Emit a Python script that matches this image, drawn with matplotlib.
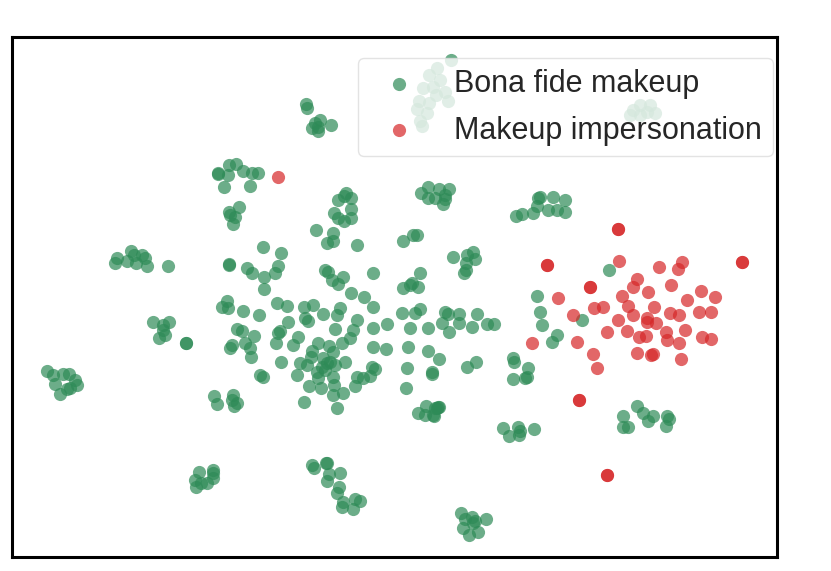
import matplotlib
matplotlib.use('Agg')
import matplotlib.pyplot as plt
import numpy as np

plt.rcParams['font.family'] = ['Liberation Sans', 'DejaVu Sans']

# t-SNE embedding (x right, y down)
bona_x = [
    306, 307, 315, 320, 318, 331, 312, 318,
    218, 218, 229, 236, 228, 243, 252, 258, 224, 250,
    239, 229, 235, 233, 230,
    344, 338, 351, 334, 351, 338, 344, 351, 346,
    428, 421, 428, 439, 449, 445, 435, 443, 445,
    516, 522, 533, 538, 537, 540, 553, 565, 557, 565, 548,
    451, 437, 429, 440, 433, 423, 445, 436, 448, 419, 429, 417, 427, 420, 422,
    633, 640, 650, 655, 640, 647, 630,
    117, 115, 131, 127, 134, 136, 142, 145, 147, 168,
    153, 163, 169, 163, 165, 159, 186, 186,
    47, 53, 63, 69, 55, 60, 67, 75, 77, 70,
    316, 333, 327, 333, 357, 263, 281, 229, 229, 247, 252, 278, 275, 264, 264,
    325, 328, 332, 343, 338, 351, 364,
    222, 228, 227, 243, 259, 277, 287, 304, 313, 305, 308, 323, 337, 340, 357,
    403, 413, 417, 453, 467, 473, 475, 466, 466, 464, 373, 420, 412, 403, 418, 410,
    537,
    373, 402, 415, 420, 445, 448, 459, 477, 442, 459, 449, 472, 487, 494,
    373, 387, 410, 428, 373, 386, 408, 428, 439, 467, 476, 372, 375, 370,
    407, 432, 432, 406, 426, 418, 425, 434, 437, 439,
    513, 514, 528, 513, 525, 527,
    503, 509, 518, 519, 520, 534,
    540, 542, 582, 557, 552, 609,
    237, 242, 254, 280, 278, 288, 335, 353, 350, 232, 230, 245, 250, 251,
    276, 293, 298, 318, 329, 333, 342, 312, 311, 300, 307, 323, 327, 330,
    335, 345, 322, 317, 318, 333, 325, 281, 297, 309, 321, 334, 333, 343,
    355, 357, 363, 260, 263,
    214, 217, 233, 232, 237, 234, 304, 337,
    199, 213, 195, 201, 196, 207, 213, 213,
    312, 314, 326, 327, 329, 340, 327, 339, 337, 343, 342, 355, 360, 353,
    438, 433, 435,
    637, 643, 653, 648, 623, 623, 628, 667, 669, 666,
    461, 465, 472, 475, 486, 463, 469, 478, 473,
]
bona_y = [
    104, 108, 123, 120, 127, 125, 128, 131,
    173, 174, 165, 164, 175, 171, 173, 173, 187, 186,
    207, 212, 217, 224, 215,
    196, 200, 198, 213, 209, 218, 221, 218, 193,
    187, 193, 198, 189, 189, 195, 198, 204, 199,
    216, 214, 213, 198, 206, 197, 197, 200, 210, 212, 210,
    60, 68, 75, 80, 87, 88, 92, 95, 101, 101, 103, 109, 113, 121, 126,
    110, 105, 105, 113, 115, 112, 115,
    258, 263, 251, 261, 255, 263, 255, 258, 266, 266,
    322, 325, 322, 330, 335, 338, 343, 343,
    371, 375, 374, 374, 384, 394, 389, 380, 385, 388,
    230, 233, 243, 241, 245, 247, 253, 264, 265, 268, 273, 266, 273, 277, 289,
    270, 272, 280, 277, 284, 293, 297,
    307, 308, 301, 311, 315, 303, 306, 307, 305, 318, 321, 314, 315, 308, 320,
    241, 235, 235, 257, 255, 252, 259, 263, 270, 273, 273, 273, 283, 288, 287, 285,
    296,
    307, 313, 313, 309, 312, 314, 314, 314, 323, 323, 332, 327, 324, 324,
    328, 324, 328, 328, 347, 349, 347, 351, 359, 367, 362, 367, 369, 376,
    368, 372, 374, 388, 406, 413, 415, 416, 408, 407,
    358, 362, 368, 379, 378, 377,
    428, 436, 427, 435, 431, 429,
    312, 325, 320, 335, 342, 270,
    329, 331, 336, 331, 333, 322, 329, 330, 338, 345, 348, 343, 348, 357,
    343, 345, 337, 343, 346, 352, 343, 351, 357, 363, 365, 358, 363, 362,
    365, 362, 367, 372, 378, 377, 370, 362, 375, 386, 388, 385, 395, 393,
    386, 377, 378, 375, 377,
    396, 404, 395, 400, 403, 406, 402, 408,
    472, 470, 480, 483, 487, 483, 478, 473,
    465, 468, 463, 463, 474, 473, 481, 487, 493, 502, 507, 499, 501, 509,
    407, 415, 408,
    406, 413, 416, 421, 416, 427, 427, 416, 419, 426,
    513, 519, 517, 521, 519, 528, 535, 532, 523,
]

imp_x = [
    278, 547, 547, 618, 618, 742, 742, 590, 590, 619, 682, 678, 659, 637, 633,
    671, 648, 622, 558, 701, 687, 715, 628, 654, 594, 603, 633, 670, 679, 699,
    711, 573, 647, 647, 656, 618, 607, 627, 639, 646, 666, 667, 685, 702, 711,
    679, 577, 532, 593, 597, 637, 651, 653, 681, 579, 579, 607, 607,
]
imp_y = [
    177, 265, 265, 229, 229, 262, 262, 287, 287, 261, 262, 269, 267, 279, 287,
    285, 292, 296, 298, 291, 300, 297, 306, 307, 308, 307, 315, 313, 315, 312,
    312, 315, 318, 322, 323, 320, 332, 331, 337, 336, 332, 340, 330, 337, 339,
    343, 342, 343, 354, 368, 353, 355, 354, 359, 400, 400, 475, 475,
]

green = '#2e8b57'
red = '#d62728'

fig = plt.figure(figsize=(8.31, 5.71), dpi=100)
ax = fig.add_axes([12 / 831, 14 / 571, 765 / 831, 520 / 571])

ax.scatter(bona_x, bona_y, s=90, color=green, alpha=0.7, linewidths=0,
           label='Bona fide makeup')
ax.scatter(imp_x, imp_y, s=90, color=red, alpha=0.7, linewidths=0,
           label='Makeup impersonation')

ax.set_xlim(12, 777)
ax.set_ylim(557, 37)
ax.set_xticks([])
ax.set_yticks([])
for sp in ax.spines.values():
    sp.set_color('black')
    sp.set_linewidth(2.2)

leg = ax.legend(loc='upper right', bbox_to_anchor=(761 / 765, 499 / 520),
                borderaxespad=0, fontsize=22, labelspacing=0.55, borderpad=0.35,
                frameon=True, framealpha=0.8, fancybox=True)
leg.get_frame().set_edgecolor('#dddddd')
leg.get_frame().set_linewidth(1.0)
for t in leg.get_texts():
    t.set_color('#262626')

fig.savefig('out.png', dpi=100)
